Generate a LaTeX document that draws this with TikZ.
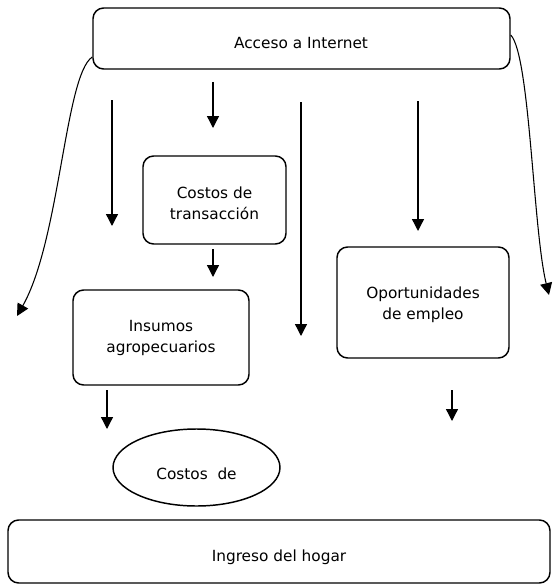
\documentclass[tikz,border=0pt]{standalone}
\usepackage{fontspec}
\setmainfont{DejaVu Sans}
\usetikzlibrary{arrows.meta,shapes.geometric,calc}
\begin{document}
\begin{tikzpicture}[x=0.75pt,y=-0.75pt,
  box/.style={draw,line width=1.1pt,rounded corners=8pt,inner sep=0pt},
  oval/.style={draw,line width=1.1pt,ellipse,inner sep=0pt},
  txt/.style={font=\fontsize{11.5}{15.5}\selectfont,align=center,inner sep=0pt},
  arr/.style={line width=1pt,-{Triangle[length=9pt,width=9pt]}},
  carr/.style={line width=0.8pt,-{Triangle[length=9pt,width=9pt]}}]
\useasboundingbox (0,0) rectangle (554,585);
% boxes
\node[box,minimum width=312.75pt,minimum height=45.75pt] (top) at (301.5,38.5) {};
\node[box,minimum width=107.25pt,minimum height=66pt] (ct) at (214.5,200) {};
\node[box,minimum width=132pt,minimum height=71.25pt] (ins) at (161,337.5) {};
\node[box,minimum width=129pt,minimum height=83.25pt] (op) at (423,302.5) {};
\node[oval,minimum width=125.25pt,minimum height=57.75pt] (ell) at (196.5,467.5) {};
\node[box,minimum width=406.5pt,minimum height=47.25pt] (bot) at (279,551.5) {};
% texts
\node[txt] (ttop) at (301,43) {Acceso a Internet};
\node[txt] (tct) at (214.5,203) {Costos de\\transacción};
\node[txt] (tins) at (161,338) {Insumos\\agropecuarios};
\node[txt] (top2) at (423,305) {Oportunidades\\de empleo};
\node[txt] (tell) at (196.5,474) {Costos\ \ de};
\node[txt] (tbot) at (279,557) {Ingreso del hogar};
% free arrow coordinates
\coordinate (a1s) at (112,100); \coordinate (a1e) at (112,226);
\coordinate (a2s) at (213,82);  \coordinate (a2e) at (213,128);
\coordinate (a3s) at (301,102); \coordinate (a3e) at (301,336);
\coordinate (a4s) at (418,101); \coordinate (a4e) at (418,231);
\coordinate (a5s) at (213,249); \coordinate (a5e) at (213,277);
\coordinate (a6s) at (107,390); \coordinate (a6e) at (107,429);
\coordinate (a7s) at (452,390); \coordinate (a7e) at (452,421);
\coordinate (lend) at (17,316);
\coordinate (rend) at (549,295);
\draw[arr] (a1s) -- (a1e);
\draw[arr] (a2s) -- (a2e);
\draw[arr] (a3s) -- (a3e);
\draw[arr] (a4s) -- (a4e);
\draw[arr] (a5s) -- (a5e);
\draw[arr] (a6s) -- (a6e);
\draw[arr] (a7s) -- (a7e);
% curved arrows
\draw[carr] (top.west |- 0,57) .. controls (65,75) and (60,240) .. (lend);
\draw[carr] (top.east |- 0,35) .. controls (530,55) and (533,230) .. (rend);
\end{tikzpicture}
\end{document}
